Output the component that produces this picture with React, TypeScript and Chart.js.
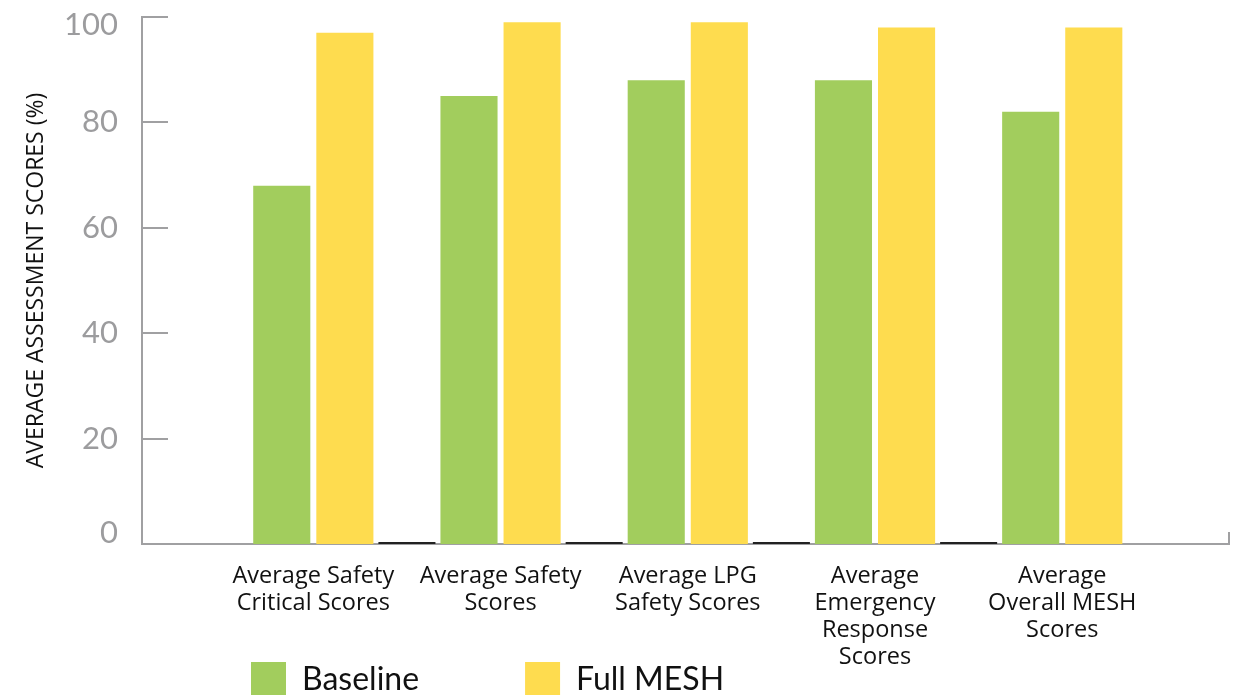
import React, { useEffect, useRef } from "react";
import { Chart, registerables } from "chart.js";

Chart.register(...registerables);

const categories: string[][] = [
  ["Average Safety", "Critical Scores"],
  ["Average Safety", "Scores"],
  ["Average LPG", "Safety Scores"],
  ["Average", "Emergency", "Response", "Scores"],
  ["Average", "Overall MESH", "Scores"],
];
const baseline: number[] = [68, 85, 88, 88, 82];
const fullMesh: number[] = [97, 99, 99, 98, 98];
const seriesNames: string[] = ["Baseline", "Full MESH"];
const yTicks: number[] = [0, 20, 40, 60, 80, 100];

const GREEN = "#A2CD5D";
const YELLOW = "#FEDC4F";
const AXIS_GRAY = "#A0A0A2";
const FONT = "Lato";
const TEXT_FONT = "Open Sans";

const CANVAS_H = 712;
const AREA_LEFT = 134;
const AREA_TOP = 9;
const AREA_BOTTOM = 536;
const LEGEND_X = 243;
const LEGEND_Y = 654;
const LEGEND_PAD = 106;

const axisDecor = {
  id: "axisDecor",
  beforeDraw(chart: any) {
    const lg = chart.legend;
    if (lg) {
      lg.left = LEGEND_X - LEGEND_PAD;
      lg.right = chart.width;
      lg.top = LEGEND_Y - LEGEND_PAD;
      lg.bottom = chart.height;
    }
    const y = chart.scales.y;
    if (y) {
      y._labelItems = null;
      const items = y.getLabelItems(chart.chartArea);
      items.forEach((it: any, i: number) => {
        const v = y.ticks[i] && y.ticks[i].value;
        if (v === 100) it.options.translation[1] += 8;
        if (v === 0) it.options.translation[1] -= 11;
      });
    }
  },
  afterDatasetsDraw(chart: any) {
    const { ctx, chartArea, scales } = chart;
    const { left, right, bottom } = chartArea;
    const y = scales.y;
    ctx.save();
    ctx.strokeStyle = AXIS_GRAY;
    ctx.lineWidth = 2;
    y.ticks.forEach((t: any) => {
      const py = Math.round(y.getPixelForValue(t.value));
      ctx.beginPath();
      ctx.moveTo(left, py);
      ctx.lineTo(left + 26, py);
      ctx.stroke();
    });
    ctx.beginPath();
    ctx.moveTo(right - 1, bottom + 1);
    ctx.lineTo(right - 1, bottom - 12);
    ctx.stroke();
    const m0 = chart.getDatasetMeta(0).data;
    const m1 = chart.getDatasetMeta(1).data;
    ctx.strokeStyle = "#222";
    for (let i = 0; i < m0.length - 1; i++) {
      const a = m1[i].x + m1[i].width / 2 + 5;
      const b = m0[i + 1].x - m0[i + 1].width / 2 - 5;
      ctx.beginPath();
      ctx.moveTo(a, bottom - 1);
      ctx.lineTo(b, bottom - 1);
      ctx.stroke();
    }
    ctx.restore();
  },
};

export default function App() {
  const ref = useRef<HTMLCanvasElement | null>(null);
  useEffect(() => {
    document.documentElement.style.overflow = "hidden";
    document.body.style.overflow = "hidden";
    if (!ref.current) return;
    const chart = new Chart(ref.current, {
      type: "bar",
      data: {
        datasets: [
          {
            label: seriesNames[0],
            data: baseline.map((v, i) => ({ x: i, y: v })),
            backgroundColor: GREEN,
            borderWidth: 0,
            categoryPercentage: 0.674,
            barPercentage: 0.905,
          } as any,
          {
            label: seriesNames[1],
            data: fullMesh.map((v, i) => ({ x: i, y: v })),
            backgroundColor: YELLOW,
            borderWidth: 0,
            categoryPercentage: 0.674,
            barPercentage: 0.905,
          } as any,
        ],
      },
      plugins: [axisDecor],
      options: {
        animation: false,
        responsive: true,
        maintainAspectRatio: false,
        layout: { padding: { top: AREA_TOP, left: 0, right: 0, bottom: 0 } },
        plugins: {
          tooltip: { enabled: false },
          legend: {
            position: "bottom",
            align: "start",
            maxHeight: 1,
            labels: {
              boxWidth: 35,
              boxHeight: 35,
              padding: LEGEND_PAD,
              color: "#111",
              font: { family: FONT, size: 32 },
            },
          } as any,
        },
        scales: {
          x: {
            type: "linear",
            offset: false,
            min: -0.915,
            max: 4.896,
            grid: { display: false, drawTicks: false },
            border: { display: true, color: AXIS_GRAY, width: 2 },
            ticks: {
              stepSize: 1,
              includeBounds: false,
              autoSkip: false,
              maxRotation: 0,
              padding: 19,
              color: "#111",
              font: { family: TEXT_FONT, size: 23.5, lineHeight: 1.149 },
              callback: (v: any) => {
                const n = Number(v);
                return Number.isInteger(n) && n >= 0 && n < categories.length ? categories[n] : "";
              },
            },
            afterFit: (s: any) => {
              s.height = CANVAS_H - AREA_BOTTOM - 1;
              s.paddingLeft = 0;
              s.paddingRight = 0;
            },
          } as any,
          y: {
            min: 0,
            max: 100,
            grid: { display: false, drawTicks: false },
            border: { display: true, color: AXIS_GRAY, width: 2 },
            afterBuildTicks: (s: any) => {
              s.ticks = yTicks.map((v) => ({ value: v }));
            },
            ticks: {
              padding: 24,
              color: "#9C9C9E",
              font: { family: FONT, size: 31 },
            },
            title: {
              display: true,
              text: "AVERAGE ASSESSMENT SCORES (%)",
              color: "#111",
              font: { family: TEXT_FONT, size: 23 },
              padding: { top: 15, bottom: 0 },
            },
            afterFit: (s: any) => {
              s.width = AREA_LEFT;
              s.paddingTop = 0;
              s.paddingBottom = 0;
            },
          } as any,
        },
      },
    });
    return () => chart.destroy();
  }, []);
  return (
    <div style={{ position: "relative", width: "1222px", height: `${CANVAS_H}px` }}>
      <canvas ref={ref} />
    </div>
  );
}
